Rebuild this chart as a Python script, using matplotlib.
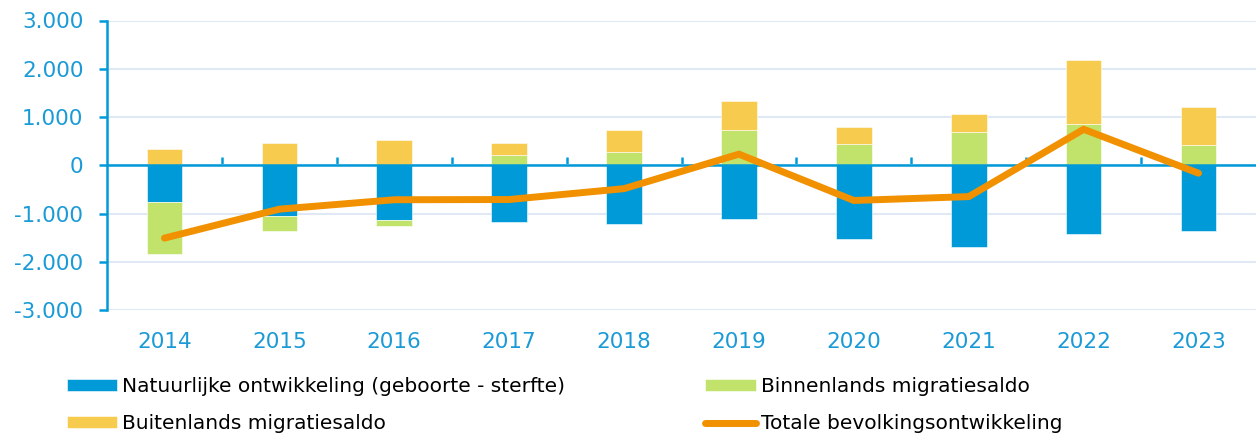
import numpy as np
import matplotlib.pyplot as plt
from matplotlib.ticker import FuncFormatter

years = ["2014", "2015", "2016", "2017", "2018", "2019", "2020", "2021", "2022", "2023"]
natuurlijk = [-760, -1050, -1140, -1170, -1220, -1110, -1530, -1700, -1435, -1370]
binnenlands = [-1080, -315, -115, 220, 270, 725, 435, 695, 865, 410]
buitenlands = [330, 460, 530, 240, 455, 600, 365, 360, 1310, 800]
totaal = [-1510, -910, -715, -710, -485, 230, -730, -650, 745, -165]

BLUE = "#009ad9"
GREEN = "#c1e36b"
YELLOW = "#f7cb4d"
ORANGE = "#f29100"
TEXT = "#1a9ad6"
GRID = "#dfe8f4"

plt.rcParams["font.family"] = ["DejaVu Sans"]

fig = plt.figure(figsize=(12.56, 4.34), dpi=100)
ax = fig.add_axes([107 / 1256, 1 - 310 / 434, 1 - 107 / 1256, (310 - 20.5) / 434])

x = np.arange(len(years))
w = 0.31
pos = np.zeros(len(years))
neg = np.zeros(len(years))
series = [(natuurlijk, BLUE, "Natuurlijke ontwikkeling (geboorte - sterfte)"),
          (binnenlands, GREEN, "Binnenlands migratiesaldo"),
          (buitenlands, YELLOW, "Buitenlands migratiesaldo")]
handles = {}
for vals, col, lab in series:
    v = np.array(vals, dtype=float)
    bottom = np.where(v >= 0, pos, neg)
    b = ax.bar(x, v, w, bottom=bottom, color=col, edgecolor="white", linewidth=0.4, zorder=3)
    handles[lab] = b
    pos = pos + np.where(v >= 0, v, 0)
    neg = neg + np.where(v < 0, v, 0)

ln, = ax.plot(x, totaal, color=ORANGE, lw=5, solid_capstyle="round", solid_joinstyle="miter", zorder=5)
handles["Totale bevolkingsontwikkeling"] = ln

ax.set_xlim(-0.5, len(years) - 0.5)
ax.set_ylim(-3000, 3000)
ax.set_yticks(np.arange(-3000, 3001, 1000))
ax.yaxis.set_major_formatter(FuncFormatter(lambda v, p: f"{int(v):,}".replace(",", ".")))
ax.grid(axis="y", color=GRID, lw=1.5, zorder=0)
ax.axhline(0, color=BLUE, lw=1.8, zorder=4)

for s in ["top", "right", "bottom"]:
    ax.spines[s].set_visible(False)
ax.spines["left"].set_color(BLUE)
ax.spines["left"].set_linewidth(1.8)
ax.tick_params(axis="y", colors=BLUE, labelcolor=TEXT, labelsize=15.5, length=6, width=1.8, pad=11)

ax.set_xticks(x)
ax.set_xticklabels(years)
ax.tick_params(axis="x", length=0, labelcolor=TEXT, labelsize=15.5, pad=16)

sec = ax.secondary_xaxis(0.5)
sec.set_xticks(np.arange(0.5, len(years) - 1, 1.0))
sec.tick_params(axis="x", direction="out", length=6, width=1.8, color=BLUE, labelbottom=False, labeltop=False)
sec.spines["bottom"].set_visible(False)
sec.spines["top"].set_visible(False)

order = ["Natuurlijke ontwikkeling (geboorte - sterfte)", "Buitenlands migratiesaldo",
         "Binnenlands migratiesaldo", "Totale bevolkingsontwikkeling"]
fig.legend([handles[k] for k in order], order, ncol=2, loc="upper left",
           bbox_to_anchor=(67 / 1256, 1 - 377 / 434), frameon=False, fontsize=14.5,
           borderpad=0, borderaxespad=0,
           handlelength=2.5, handleheight=0.5, handletextpad=0.25, columnspacing=6.95,
           labelspacing=0.9)

fig.savefig("out.png", dpi=100)
